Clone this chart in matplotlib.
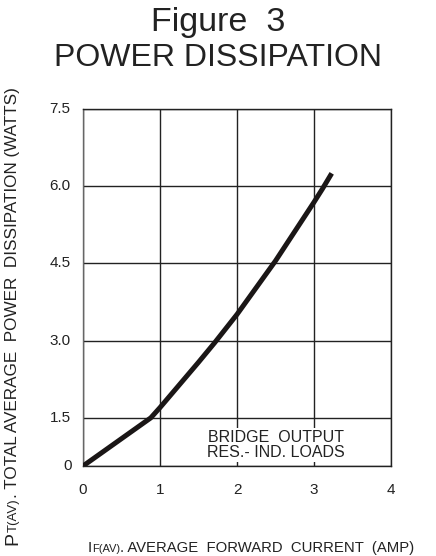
import numpy as np
import matplotlib
matplotlib.use('Agg')
import matplotlib.pyplot as plt
from matplotlib.transforms import offset_copy

plt.rcParams['font.family'] = ['Liberation Sans', 'DejaVu Sans']

# values
current = [0, 0.88, 1.0, 1.5, 1.71, 2.0, 2.5, 3.0, 3.11, 3.23]
power = [0, 1.5, 1.70, 2.58, 2.96, 3.51, 4.55, 5.69, 5.95, 6.25]

x_ticks = [0, 1, 2, 3, 4]
y_ticks = [0, 1.5, 3.0, 4.5, 6.0, 7.5]
y_tick_labels = ['0', '1.5', '3.0', '4.5', '6.0', '7.5']

# the bottom 0..1.5 band is drawn shorter than the others in the original
k = 48 / 77


def fwd(y):
    y = np.asarray(y, float)
    return np.where(y < 1.5, y * k, y - 1.5 + 1.5 * k)


def inv(v):
    v = np.asarray(v, float)
    return np.where(v < 1.5 * k, v / k, v + 1.5 - 1.5 * k)


W, H = 436, 556
fig = plt.figure(figsize=(W / 100, H / 100), dpi=100)
ax = fig.add_axes([83 / W, 1 - 466 / H, 308 / W, 357 / H])
ax.set_yscale('function', functions=(fwd, inv))
ax.set_xlim(0, 4)
ax.set_ylim(0, 7.5)

ax.plot(current, power, color='#1a1616', lw=3.6, solid_capstyle='butt', zorder=3)

ax.set_xticks(x_ticks)
ax.set_yticks(y_ticks)
ax.yaxis.set_minor_locator(plt.NullLocator())
ax.tick_params(axis='both', length=0)
ax.tick_params(axis='x', pad=12, labelsize=11, colors='#222222')
ax.set_yticklabels([])
ax.grid(True, color='#222222', lw=1.0, zorder=1)
for s in ['top', 'right', 'bottom']:
    ax.spines[s].set_color('#222222')
    ax.spines[s].set_linewidth(1.0)
ax.spines['left'].set_color('#666666')
ax.spines['left'].set_linewidth(1.0)

ytr = ax.get_yaxis_transform()
for v, lab in zip(y_ticks, y_tick_labels):
    xo = -0.036 if lab == '0' else -0.04
    ax.text(xo, v, lab, transform=ytr, ha='right', va='center', fontsize=11, color='#222222')

ax.text(2.5, 0.66, 'BRIDGE  OUTPUT\nRES.- IND. LOADS', ha='center', va='center',
        fontsize=11.5, linespacing=1.0, color='#222222', zorder=4,
        bbox=dict(facecolor='white', edgecolor='none', pad=1.5))

fig.text(0.5, 1 - 22 / H, 'Figure  3', ha='center', va='center', fontsize=24.5, color='#222222')
fig.text(0.5, 1 - 58 / H, 'POWER DISSIPATION', ha='center', va='center', fontsize=23, color='#222222')

r = fig.canvas.get_renderer()


def mixed(parts, x, y, rot=0):
    tr = fig.transFigure
    for s, size in parts:
        t = fig.text(x, y, s, fontsize=size, rotation=rot, rotation_mode='anchor',
                     ha='left', va='baseline', transform=tr, color='#222222')
        bb = t.get_window_extent(r)
        if rot:
            tr = offset_copy(tr, fig, x=0, y=bb.height, units='dots')
        else:
            tr = offset_copy(tr, fig, x=bb.width, units='dots')


mixed([('I', 11), ('F(AV)', 8), ('. AVERAGE  FORWARD  CURRENT  (AMP)', 10.7)],
      88 / W, 1 - 552 / H)
mixed([('P', 14), ('T(AV)', 9.5), ('. TOTAL AVERAGE  POWER  DISSIPATION (WATTS)', 12.3)],
      17 / W, 1 - 545 / H, rot=90)

fig.savefig('out.png', dpi=100)
